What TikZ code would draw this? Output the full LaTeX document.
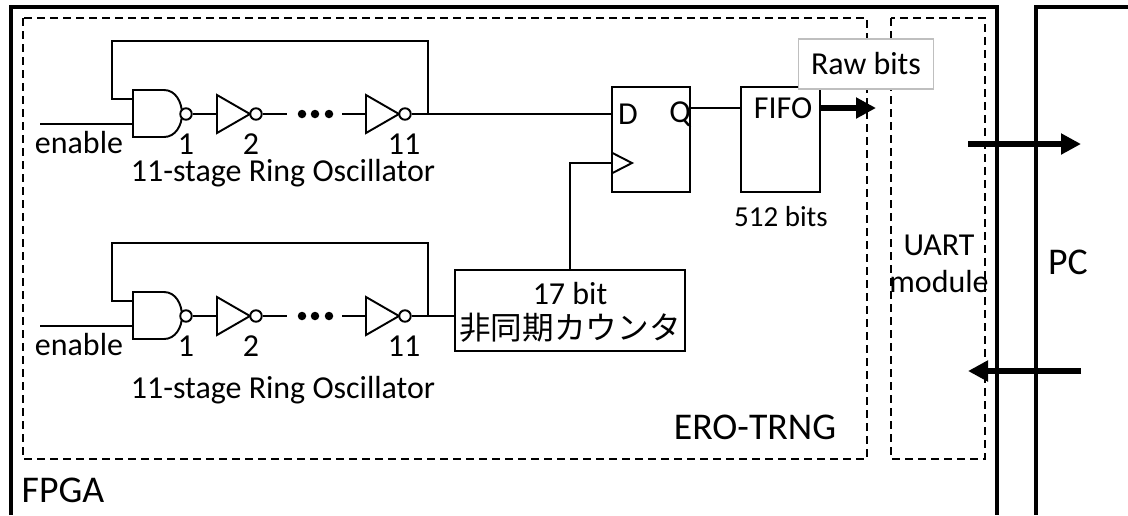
\documentclass[tikz,border=0pt]{standalone}
\usepackage{fontspec}
\setmainfont{Carlito}
\newfontfamily\cjk{Noto Sans CJK JP}
\usetikzlibrary{arrows.meta}
\tikzset{
    wire/.style={line width=1.1pt},
    dashbox/.style={line width=1.1pt,dash pattern=on 4.5pt off 2.9pt},
    bubble/.style={draw,circle,line width=1.1pt,fill=white,minimum size=0.23cm,inner sep=0pt},
    dotmark/.style={circle,fill=black,minimum size=0.17cm,inner sep=0pt},
    block/.style={draw,line width=1.1pt,inner sep=0pt},
    lab/.style={font=\fontsize{18.2}{21}\selectfont,inner sep=0pt},
    biglab/.style={font=\fontsize{21.5}{25}\selectfont,inner sep=0pt},
    fatarrow/.style={line width=0.13cm,-{Triangle[length=0.4cm,width=0.4cm]}}
}
\begin{document}
\begin{tikzpicture}[x=0.02cm,y=-0.02cm]
    \useasboundingbox (0,0) rectangle (1128,515);
    % outer frames
    \draw[line width=2pt] (11,515) -- (11,7) -- (997,7) -- (997,515);
    \draw[line width=1.8pt] (1128,7) -- (1036,7) -- (1036,515);
    \draw[dashbox] (23,18) rectangle (867,459);
    \draw[dashbox] (891,18) rectangle (985,459);
    % the two oscillators
    \foreach \ro/\ypos in {a/0,b/202}{
        \begin{scope}[
            shift={(0,\ypos)}
        ]
            \draw[wire] (133,90) -- (164,90)
                to [out=0,in=90] (182,114)
                to [out=-90,in=0] (164,137)
                -- (133,137) -- cycle;
            \draw[wire] (217,95) -- (250,114) -- (217,133) -- cycle;
            \draw[wire] (366,95) -- (399,114) -- (366,133) -- cycle;
            \node[bubble] (bub1\ro) at (186,114) {};
            \node[bubble] (bub2\ro) at (256,114) {};
            \node[bubble] (bub3\ro) at (405,114) {};
            \node[dotmark] (dot1\ro) at (302,114) {};
            \node[dotmark] (dot2\ro) at (315,114) {};
            \node[dotmark] (dot3\ro) at (329,114) {};
            \coordinate (inv1\ro) at (217,114);
            \coordinate (inv2\ro) at (366,114);
            \coordinate (fb\ro) at (428,114);
            \coordinate (nandtop\ro) at (133,99);
            \coordinate (nandlow\ro) at (133,124);
            \coordinate (enable\ro) at (40,124);
            \coordinate (gapl\ro) at (287,114);
            \coordinate (gapr\ro) at (342,114);
            \draw[wire] (bub1\ro) -- (inv1\ro);
            \draw[wire] (bub2\ro) -- (gapl\ro);
            \draw[wire] (gapr\ro) -- (inv2\ro);
            \draw[wire] (enable\ro) -- (nandlow\ro);
            \draw[wire] (bub3\ro) -- (fb\ro)
                -- (428,41) -- (112,41) -- (112,99) -- (nandtop\ro);
            \node[lab] (en\ro) at (79,143) {enable};
            \node[lab] (numa\ro) at (186,144) {1};
            \node[lab] (numb\ro) at (251,144) {2};
            \node[lab] (numc\ro) at (404,144) {11};
        \end{scope}
    }
    \node[lab] (roa) at (283,173) {11-stage Ring Oscillator};
    \node[lab] (rob) at (283,390) {11-stage Ring Oscillator};
    % flip-flop, buffer, counter
    \node[block,minimum width=1.55cm,minimum height=2.1cm] (dff) at (651,139.5) {};
    \node[block,minimum width=1.58cm,minimum height=2.1cm] (fifo) at (780.5,139.5) {};
    \node[block,minimum width=4.61cm,minimum height=1.62cm] (cnt) at (570,310.5) {};
    \node[lab] (cnta) at (570,294) {17 bit};
    \node[inner sep=0pt,font=\cjk\fontsize{18}{21}\selectfont] (cntb) at (570,328) {非同期カウンタ};
    \node[lab] (dlab) at (628,114) {D};
    \node[lab] (qlab) at (680,114) {Q};
    \node[lab] (fifolab) at (783,108) {FIFO};
    \node[inner sep=0pt,font=\fontsize{16.5}{19}\selectfont] (size) at (781,217) {512 bits};
    \draw[wire] (bub3a) -- (dff.west |- bub3a);
    \draw[wire] (bub3b) -- (cnt.west |- bub3b);
    \draw[wire] (dff.east |- fifolab) -- (fifo.west |- fifolab);
    \coordinate (clk) at (612.5,163);
    \draw[wire] (612.5,153) -- (632,163) -- (612.5,173);
    \draw[wire] (cnt.north) |- (clk);
    % labels of the frames
    \node[draw=black!25,line width=0.6pt,fill=white,minimum width=2.71cm,minimum height=1cm,lab] (raw) at (866,64) {Raw bits};
    \node[biglab] (ero) at (755,427) {ERO-TRNG};
    \node[biglab] (fpga) at (63,490) {FPGA};
    \node[lab] (uarta) at (939,245) {UART};
    \node[lab] (uartb) at (939,282) {module};
    \node[biglab] (pc) at (1068,262) {PC};
    % thick arrows
    \coordinate (txa) at (968,144);
    \coordinate (txb) at (1081,144);
    \coordinate (rxa) at (1081,371);
    \coordinate (rxb) at (968,371);
    \coordinate (rawend) at (876,108);
    \draw[fatarrow] (fifo.east |- rawend) -- (rawend);
    \draw[fatarrow] (txa) -- (txb);
    \draw[fatarrow] (rxa) -- (rxb);
\end{tikzpicture}
\end{document}
